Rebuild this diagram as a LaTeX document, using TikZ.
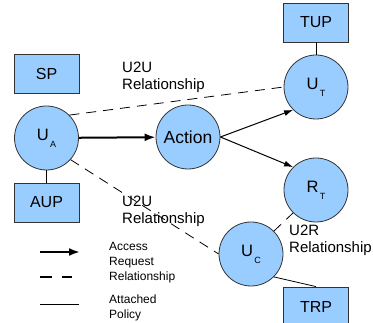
\documentclass[tikz,border=0pt]{standalone}
\usepackage{fontspec}
\setmainfont{Liberation Sans}
\usetikzlibrary{arrows.meta}
\definecolor{fillb}{HTML}{99CCFF}
\definecolor{edgec}{HTML}{333333}
\newcommand{\sbs}[1]{\hspace{1.5pt}\raisebox{-7pt}{\fontsize{9}{9}\selectfont #1}}
\begin{document}
\begin{tikzpicture}[x=1pt,y=-1pt,
  ent/.style={circle,draw=edgec,fill=fillb,line width=0.8pt,minimum size=64pt,inner sep=0pt,font=\fontsize{16.5}{16.5}\selectfont},
  pbox/.style={rectangle,draw=edgec,fill=fillb,line width=0.8pt,minimum width=65pt,minimum height=39pt,inner sep=0pt,font=\fontsize{16}{16}\selectfont},
  acc/.style={draw=black,line width=1pt,-{Latex[length=9pt,width=6pt]}},
  thickacc/.style={draw=black,line width=2pt,-{Latex[length=11pt,width=8pt]}},
  rel/.style={draw=black,line width=0.8pt,dash pattern=on 10pt off 7pt},
  pol/.style={draw=black,line width=0.8pt},
  lbl/.style={anchor=north west,inner sep=0pt,align=left,font=\fontsize{15}{16.5}\selectfont},
  leg/.style={anchor=north west,inner sep=0pt,align=left,font=\fontsize{12}{15}\selectfont}]
\useasboundingbox (0,0) rectangle (373,323);
\node[pbox] (sp) at (46.5,73.5) {SP};
\node[pbox] (aup) at (46.5,202.5) {AUP};
\node[pbox] (tup) at (316,22.5) {TUP};
\node[pbox] (trp) at (316,306.5) {TRP};
\node[ent] (ua) at (46.5,138) {U\sbs{A}};
\node[ent,font=\fontsize{17.5}{17.5}\selectfont] (act) at (188,137) {Action};
\node[ent] (ut) at (316,87) {U\sbs{T}};
\node[ent] (rt) at (316,190) {R\sbs{T}};
\node[ent] (uc) at (251,254) {U\sbs{C}};
\draw[rel] (ua.45) -- (ut.west);
\draw[rel] (ua.-42) -- (uc.west);
\draw[rel] (uc.45) -- (rt.225);
\draw[thickacc] (ua) -- (act);
\draw[acc] (act.east) -- (ut.-135);
\draw[acc] (act.east) -- (rt.135);
\draw[pol] (ua) -- (aup);
\draw[pol] (ut) -- (tup);
\draw[pol] (uc.-45) -- (trp.north);
\node[lbl] (l1) at (122,62) {U2U\\Relationship};
\node[lbl] (l2) at (122,196) {U2U\\Relationship};
\node[lbl] (l3) at (289,225) {U2R\\Relationship};
\coordinate (a1) at (40,252);
\coordinate (a2) at (80,252);
\coordinate (b1) at (40,277);
\coordinate (b2) at (72,277);
\coordinate (c1) at (40,304);
\coordinate (c2) at (79,304);
\draw[thickacc] (a1) -- (a2);
\draw[rel,line width=1.2pt,dash pattern=on 12pt off 10pt] (b1) -- (b2);
\draw[pol] (c1) -- (c2);
\node[leg] (t1) at (109,242) {Access\\Request};
\node[leg] (t2) at (109,272) {Relationship};
\node[leg] (t3) at (109,295) {Attached\\Policy};
\end{tikzpicture}
\end{document}
